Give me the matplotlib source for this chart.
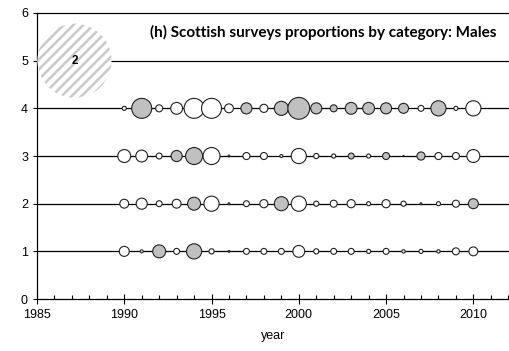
import numpy as np
import matplotlib
matplotlib.use("Agg")
import matplotlib.pyplot as plt
from matplotlib.ticker import MultipleLocator
from matplotlib.patches import Circle
from matplotlib.collections import LineCollection
from matplotlib.transforms import ScaledTranslation

# years and residuals per category (negative = grey bubble)
years = np.arange(1990, 2011)
cat1 = [0.27, 0.08, -0.35, 0.16, -0.41, 0.14, 0.05, 0.16, 0.16, 0.16, 0.32,
        0.14, 0.16, 0.16, 0.11, 0.16, 0.09, 0.11, 0.09, 0.19, 0.24]
cat2 = [0.24, 0.30, 0.16, 0.24, -0.35, 0.41, 0.05, 0.16, 0.22, -0.38, 0.41,
        0.14, 0.19, 0.22, 0.11, 0.22, 0.14, 0.05, 0.11, 0.19, -0.27]
cat3 = [0.35, 0.32, 0.16, -0.30, -0.46, 0.46, 0.05, 0.19, 0.19, 0.08, 0.41,
        0.14, 0.11, -0.16, 0.11, -0.19, 0.03, -0.22, 0.19, 0.19, 0.35]
cat4 = [0.11, -0.54, 0.19, 0.32, 0.54, 0.54, 0.24, -0.30, 0.22, -0.38, -0.59,
        -0.30, -0.19, -0.32, -0.32, -0.30, -0.27, 0.16, -0.41, 0.11, 0.41]
categories = [1, 2, 3, 4]
legend_value = 2
legend_pos = (1987.15, 5)

plt.rcParams['font.family'] = ['Liberation Sans', 'DejaVu Sans']

fig = plt.figure(figsize=(5.10, 3.51), dpi=100)
ax = fig.add_axes([0.0725, 0.148, 0.9275, 0.815])

# bubble diameter in points per unit of residual
scale = 37 * 0.72

for cat, vals in zip(categories, [cat1, cat2, cat3, cat4]):
    vals = np.array(vals)
    ax.axhline(cat, color='black', lw=0.9, zorder=1)
    colors = np.where(vals < 0, '#c0c0c0', 'white')
    ax.scatter(years, np.full(len(years), cat), s=(scale * np.abs(vals)) ** 2,
               c=colors, edgecolors='#222222', linewidths=0.8, zorder=3)

# legend bubble, sized in points (inches here), placed in data coords
ax.plot([legend_pos[0], 2013], [legend_pos[1]] * 2, color='black', lw=0.9, zorder=1)
trans = fig.dpi_scale_trans + ScaledTranslation(*legend_pos, ax.transData)
r = scale * legend_value / 2 / 72
circ = Circle((0, 0), r, facecolor='white', edgecolor='none', zorder=4,
              clip_on=False, transform=trans)
ax.add_patch(circ)
# diagonal stripes clipped to the circle
segs = []
for d in np.arange(-r, r + 0.01, 0.07):
    segs.append([(-d / np.sqrt(2) - r, d / np.sqrt(2) - r),
                 (-d / np.sqrt(2) + r, d / np.sqrt(2) + r)])
stripes = LineCollection(segs, colors='#cbcbcb', linewidths=1.9, zorder=4.5,
                         transform=trans)
ax.add_collection(stripes, autolim=False)
stripes.set_clip_path(circ)
ax.text(legend_pos[0], legend_pos[1], str(legend_value), ha='center', va='center',
        fontsize=8.5, fontweight='bold', zorder=5)

ax.text(2011.3, 5.6, '(h) Scottish surveys proportions by category: Males',
        ha='right', va='center', fontsize=11, fontweight='bold', family='Lato')

ax.set_xlim(1985, 2012.1)
ax.set_ylim(0, 6)
ax.xaxis.set_major_locator(MultipleLocator(5))
ax.xaxis.set_minor_locator(MultipleLocator(1))
ax.yaxis.set_major_locator(MultipleLocator(1))
ax.tick_params(axis='x', which='major', direction='inout', length=7, width=0.8, labelsize=9)
ax.tick_params(axis='x', which='minor', direction='in', length=3, width=0.8)
ax.tick_params(axis='y', which='major', direction='out', length=3, width=0.8, labelsize=9)
ax.set_xlabel('year', fontsize=9, labelpad=7)

for side in ['left', 'bottom', 'top']:
    ax.spines[side].set_linewidth(0.9)
ax.spines['right'].set_visible(False)

fig.savefig('out.png', dpi=100)
